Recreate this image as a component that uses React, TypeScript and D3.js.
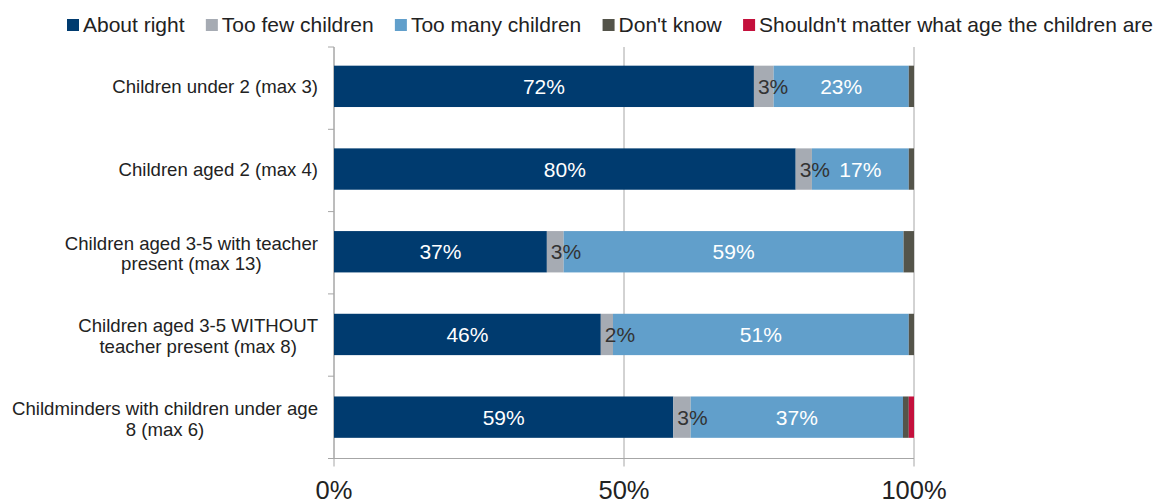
import React from 'react';
import * as d3 from 'd3';

const categories: string[][] = [
  ["Children under 2 (max 3)"],
  ["Children aged 2 (max 4)"],
  ["Children aged 3-5 with teacher", "present (max 13)"],
  ["Children aged 3-5 WITHOUT", "teacher present (max 8)"],
  ["Childminders with children under age", "8 (max 6)"],
];
const seriesNames = [
  "About right",
  "Too few children",
  "Too many children",
  "Don't know",
  "Shouldn't matter what age the children are",
];
const aboutRight = [72.4, 79.6, 36.7, 46.0, 58.5];
const tooFew = [3.4, 2.8, 2.9, 2.1, 3.0];
const tooMany = [23.3, 16.7, 58.6, 51.0, 36.6];
const dontKnow = [0.9, 0.9, 1.8, 0.9, 1.0];
const shouldntMatter = [0, 0, 0, 0, 0.9];
const xTicks = [0, 50, 100];

const colors = ["#003B6F", "#A6ABB3", "#619FCB", "#54544A", "#C4103C"];
const labelColors = ["#ffffff", "#333333", "#ffffff", null, null];
const FONT = "Arial, 'Liberation Sans', sans-serif";

let ctx: CanvasRenderingContext2D | null = null;
function textWidth(t: string, size: number) {
  if (!ctx) ctx = document.createElement('canvas').getContext('2d')!;
  ctx.font = `${size}px Arial, 'Liberation Sans', sans-serif`;
  return ctx.measureText(t).width;
}

export default function App() {
  const W = 1156, H = 504;
  const left = 334, right = 914, top = 45, bottom = 458.5;
  const series = [aboutRight, tooFew, tooMany, dontKnow, shouldntMatter];
  const x = d3.scaleLinear().domain([0, 100]).range([left, right]);
  const y = d3.scaleBand<number>().domain(d3.range(categories.length)).range([top, bottom]).paddingInner(0.5).paddingOuter(0.25);

  const rows = categories.map((_, i) => {
    let acc = 0;
    return series.map((s, k) => {
      const v = s[i];
      const x0 = acc;
      acc += v;
      return { k, v, x0, x1: acc };
    });
  });

  // legend layout
  const legSize = 21;
  const sq = 12;
  const legStart = 67, legEnd = 1153;
  const widths = seriesNames.map((n) => textWidth(n, legSize));
  const gap = (legEnd - legStart - d3.sum(widths) - seriesNames.length * (sq + 4)) / (seriesNames.length - 1);
  let lx = legStart;
  const legend = seriesNames.map((n, k) => {
    const item = { n, k, x: lx };
    lx += sq + 4 + widths[k] + gap;
    return item;
  });

  const catSize = 18.6;
  const catRight = 318;
  const tickStep = (bottom - top - 2) / categories.length;

  return (
    <svg width={W} height={H} style={{ position: 'absolute', left: 0, top: 0, background: '#fff' }} fontFamily={FONT}>
      {/* legend */}
      {legend.map((l) => (
        <g key={l.k}>
          <rect x={l.x} y={19} width={sq} height={sq} fill={colors[l.k]} />
          <text x={l.x + sq + 4} y={31.5} fontSize={legSize} fill="#222">{l.n}</text>
        </g>
      ))}
      {/* gridlines */}
      {xTicks.map((t) => (
        <line key={t} x1={x(t)} x2={x(t)} y1={top + 2} y2={bottom + 8} stroke="#A6A6A6" strokeWidth={1} />
      ))}
      {/* axes */}
      <line x1={left} x2={right} y1={bottom} y2={bottom} stroke="#A6A6A6" />
      <line x1={left} x2={left} y1={top + 2} y2={bottom} stroke="#A6A6A6" />
      {d3.range(categories.length + 1).map((i) => (
        <line key={i} x1={left - 6} x2={left} y1={top + 2 + i * tickStep} y2={top + 2 + i * tickStep} stroke="#A6A6A6" />
      ))}
      {xTicks.map((t) => (
        <text key={t} x={x(t)} y={498.5} fontSize={25.5} textAnchor="middle" fill="#222">{t}%</text>
      ))}
      {/* bars */}
      {rows.map((segs, i) => {
        const cy = y(i)! + y.bandwidth() / 2;
        const lines = categories[i];
        const maxW = d3.max(lines, (ln) => textWidth(ln, catSize))!;
        const cx = catRight - maxW / 2;
        return (
          <g key={i}>
            {segs.filter((s) => s.v > 0).map((s) => (
              <rect key={s.k} x={x(s.x0)} y={y(i)!} width={x(s.x1) - x(s.x0)} height={y.bandwidth()} fill={colors[s.k]} />
            ))}
            {segs.filter((s) => labelColors[s.k] && s.v > 0).map((s) => (
              s.k === 1 ? (
                <text key={'t' + s.k} x={x(s.x0) + 4} y={cy + 7.5} fontSize={21} textAnchor="start" fill={labelColors[s.k]!}>
                  {Math.round(s.v)}%
                </text>
              ) : (
                <text key={'t' + s.k} x={(x(s.x0) + x(s.x1)) / 2} y={cy + 7.5} fontSize={21} textAnchor="middle" fill={labelColors[s.k]!}>
                  {Math.round(s.v)}%
                </text>
              )
            ))}
            <text fontSize={catSize} textAnchor="middle" fill="#222">
              {lines.map((ln, j) => (
                <tspan key={j} x={cx} y={lines.length === 1 ? cy + 7 : cy - 2 + j * 20.5}>{ln}</tspan>
              ))}
            </text>
          </g>
        );
      })}
    </svg>
  );
}
